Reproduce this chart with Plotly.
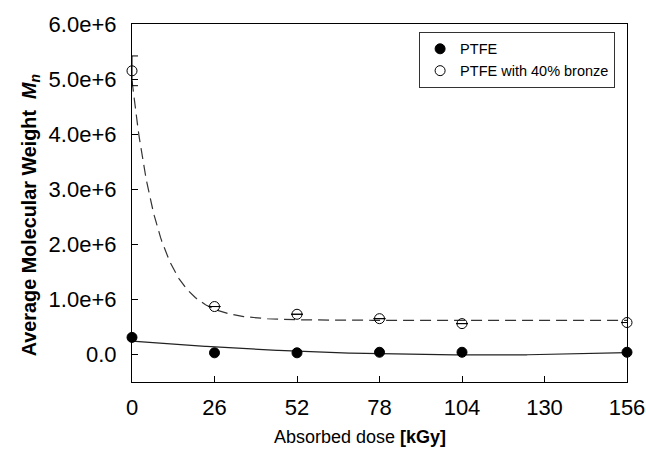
import numpy as np
import plotly.graph_objects as go

# Data
dose = [0, 26, 52, 78, 104, 156]
ptfe = [0.31e6, 0.03e6, 0.03e6, 0.04e6, 0.04e6, 0.04e6]
bronze = [5.15e6, 0.87e6, 0.73e6, 0.65e6, 0.56e6, 0.58e6]
bronze_err = [0.27e6, 0, 0, 0, 0, 0]

x_ticks = [0, 26, 52, 78, 104, 130, 156]
y_ticks = [0, 1e6, 2e6, 3e6, 4e6, 5e6, 6e6]
y_tick_text = ["0.0", "1.0e+6", "2.0e+6", "3.0e+6", "4.0e+6", "5.0e+6", "6.0e+6"]

x_title = "Absorbed dose <b>[kGy]</b>"
y_title = "<b>Average Molecular Weight  <i>M<sub>n</sub></i></b>"

# Fit curve parameters
bronze_fit = dict(y0=0.62e6, a=4.35e6, b=0.118)          # exponential decay
ptfe_fit = dict(vmin=-0.01e6, xv=110.0, k=20.7)          # quadratic

xf = np.linspace(0, 156, 400)
bronze_curve = bronze_fit["y0"] + bronze_fit["a"] * np.exp(-bronze_fit["b"] * xf)
ptfe_curve = ptfe_fit["vmin"] + ptfe_fit["k"] * (xf - ptfe_fit["xv"]) ** 2

FONT = "Liberation Sans, Arial, sans-serif"

fig = go.Figure()
fig.add_trace(go.Scatter(x=xf, y=ptfe_curve, mode="lines",
                         line=dict(color="#222", width=1.2), showlegend=False,
                         hoverinfo="skip"))
fig.add_trace(go.Scatter(x=xf, y=bronze_curve, mode="lines",
                         line=dict(color="#333", width=1.2, dash="11px,6px"),
                         showlegend=False, hoverinfo="skip"))
fig.add_trace(go.Scatter(x=dose, y=ptfe, mode="markers", name="PTFE",
                         marker=dict(symbol="circle", size=10, color="black",
                                     line=dict(color="black", width=1)),
                         cliponaxis=False))
fig.add_trace(go.Scatter(x=dose, y=bronze, mode="markers", name="PTFE with 40% bronze",
                         marker=dict(symbol="circle-open", size=10, color="black",
                                     line=dict(color="black", width=1)),
                         error_y=dict(type="data", array=bronze_err, visible=True,
                                      color="black", thickness=1, width=6),
                         cliponaxis=False))

fig.update_layout(
    width=646, height=457,
    margin=dict(l=132, r=19, t=24, b=75),
    paper_bgcolor="white", plot_bgcolor="white",
    font=dict(family=FONT, color="black", size=22),
    legend=dict(x=0.58, y=0.978, xanchor="left", yanchor="top",
                bordercolor="#333", borderwidth=1, bgcolor="white",
                font=dict(size=14.5, family=FONT), tracegroupgap=0,
                itemwidth=30),
    xaxis=dict(range=[0, 156], tickvals=x_ticks, ticks="inside", ticklen=6,
               tickcolor="black", showline=True, linecolor="black", linewidth=1.2,
               mirror=True, showgrid=False, zeroline=False, automargin=False,
               ticklabelstandoff=5),
    yaxis=dict(range=[-0.5e6, 6.0e6], tickvals=y_ticks, ticktext=y_tick_text,
               ticks="inside", ticklen=6, tickcolor="black", showline=True,
               linecolor="black", linewidth=1.2, mirror=True, showgrid=False,
               zeroline=False, ticklabelstandoff=10, automargin=False),
    annotations=[
        dict(text=x_title, xref="paper", yref="paper", x=0.46, y=-0.154,
             xanchor="center", yanchor="middle", showarrow=False,
             font=dict(size=18, family=FONT)),
        dict(text=y_title, xref="paper", yref="paper", x=-0.206, y=0.466,
             xanchor="center", yanchor="middle", showarrow=False, textangle=-90,
             font=dict(size=19.8, family=FONT)),
    ],
)

fig.write_html("out.html", config={"displayModeBar": False},
               post_script="document.body.style.margin='0';document.body.style.overflow='hidden';")
